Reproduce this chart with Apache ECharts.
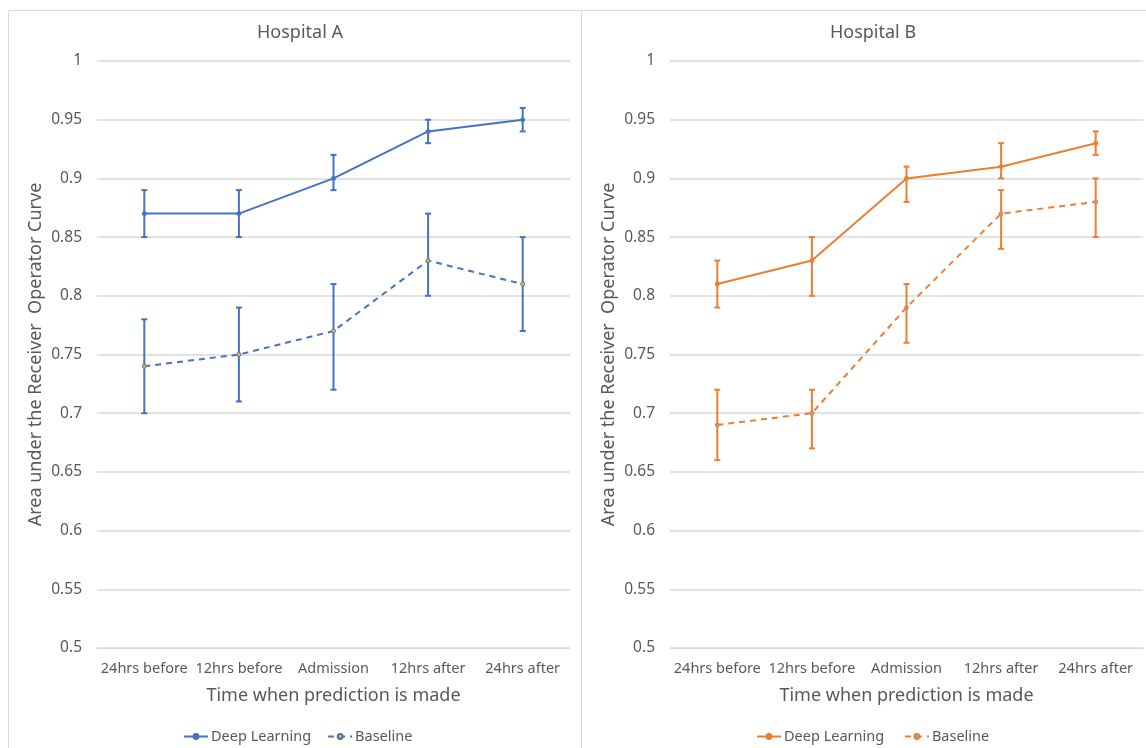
<!DOCTYPE html>
<html>
<head>
<meta charset="utf-8">
<script src="https://cdn.jsdelivr.net/npm/echarts@6/dist/echarts.min.js"></script>
<style>html,body{margin:0;padding:0;background:#fff}#c{width:1146px;height:748px}</style>
</head>
<body>
<div id="c"></div>
<script>
var categories = ['24hrs before', '12hrs before', 'Admission', '12hrs after', '24hrs after'];
var yTicks = [0.5, 0.55, 0.6, 0.65, 0.7, 0.75, 0.8, 0.85, 0.9, 0.95, 1];

var aDeep = [0.87, 0.87, 0.90, 0.94, 0.95];
var aDeepLow = [0.85, 0.85, 0.89, 0.93, 0.94];
var aDeepHigh = [0.89, 0.89, 0.92, 0.95, 0.96];
var aBase = [0.74, 0.75, 0.77, 0.83, 0.81];
var aBaseLow = [0.70, 0.71, 0.72, 0.80, 0.77];
var aBaseHigh = [0.78, 0.79, 0.81, 0.87, 0.85];

var bDeep = [0.81, 0.83, 0.90, 0.91, 0.93];
var bDeepLow = [0.79, 0.80, 0.88, 0.90, 0.92];
var bDeepHigh = [0.83, 0.85, 0.91, 0.93, 0.94];
var bBase = [0.69, 0.70, 0.79, 0.87, 0.88];
var bBaseLow = [0.66, 0.67, 0.76, 0.84, 0.85];
var bBaseHigh = [0.72, 0.72, 0.81, 0.89, 0.90];

var BLUE = '#4472C4', ORANGE = '#ED7D31', TXT = '#595959', GRID = '#D9D9D9';
var FONT = 'Noto Sans';

function errData(low, high) {
  return low.map(function (l, i) { return [i, l, high[i]]; });
}
function errSeries(low, high, color, gi) {
  return {
    type: 'custom', xAxisIndex: gi, yAxisIndex: gi, silent: true, z: 1,
    data: errData(low, high),
    encode: { x: 0, y: [1, 2] },
    renderItem: function (params, api) {
      var x = api.value(0);
      var p1 = api.coord([x, api.value(1)]);
      var p2 = api.coord([x, api.value(2)]);
      var w = 3;
      var st = { stroke: color, lineWidth: 2 };
      return { type: 'group', children: [
        { type: 'line', shape: { x1: p1[0], y1: p1[1], x2: p2[0], y2: p2[1] }, style: st },
        { type: 'line', shape: { x1: p1[0] - w, y1: p1[1], x2: p1[0] + w, y2: p1[1] }, style: st },
        { type: 'line', shape: { x1: p2[0] - w, y1: p2[1], x2: p2[0] + w, y2: p2[1] }, style: st }
      ]};
    }
  };
}
function lineSeries(name, data, color, dashed, fill, gi) {
  return {
    name: name, type: 'line', xAxisIndex: gi, yAxisIndex: gi, data: data, z: 3,
    symbol: 'circle', symbolSize: 4,
    lineStyle: { color: color, width: 2, type: dashed ? [6, 5] : 'solid' },
    itemStyle: { color: fill, borderColor: color, borderWidth: 1 },
    emphasis: { disabled: true }
  };
}
function xAxis(gi) {
  return {
    type: 'category', gridIndex: gi, data: categories, boundaryGap: true,
    axisLine: { show: true, lineStyle: { color: GRID, width: 1 } },
    axisTick: { show: false },
    axisLabel: { color: TXT, fontSize: 14.5, fontFamily: FONT, margin: 13, interval: 0 },
    name: 'Time when prediction is made', nameLocation: 'middle', nameGap: 39,
    nameTextStyle: { color: TXT, fontSize: 18, fontFamily: FONT }
  };
}
function yAxis(gi) {
  return {
    type: 'value', gridIndex: gi, min: 0.5, max: 1, interval: 0.05,
    axisLine: { show: false }, axisTick: { show: false },
    axisLabel: { color: TXT, fontSize: 15.5, fontFamily: FONT, margin: 15,
      formatter: function (v) { return String(Math.round(v * 100) / 100); } },
    splitLine: { lineStyle: { color: GRID, width: 1.5 } },
    name: 'Area under the Receiver  Operator Curve', nameLocation: 'middle', nameGap: 52,
    nameTextStyle: { color: TXT, fontSize: 18, fontFamily: FONT }
  };
}
function legend(names, left) {
  return { data: names, left: left, top: 724, itemWidth: 24, itemHeight: 6, itemGap: 16,
    textStyle: { color: TXT, fontSize: 14.5, fontFamily: FONT, padding: [0, 0, 0, -2] }, selectedMode: false };
}

var chart = echarts.init(document.getElementById('c'), null, { renderer: 'canvas' });
chart.setOption({
  backgroundColor: '#fff',
  animation: false,
  graphic: [
    { type: 'rect', shape: { x: 8.5, y: 10.5, width: 573, height: 760 }, style: { fill: 'none', stroke: '#D9D9D9', lineWidth: 1 }, silent: true },
    { type: 'rect', shape: { x: 581.5, y: 10.5, width: 600, height: 760 }, style: { fill: 'none', stroke: '#D9D9D9', lineWidth: 1 }, silent: true }
  ],
  title: [
    { text: 'Hospital A', left: 295, top: 19, textAlign: 'center', textStyle: { color: TXT, fontSize: 18, fontWeight: 'normal', fontFamily: FONT } },
    { text: 'Hospital B', left: 868, top: 19, textAlign: 'center', textStyle: { color: TXT, fontSize: 18, fontWeight: 'normal', fontFamily: FONT } }
  ],
  legend: [
    legend(['Deep Learning', 'Baseline'], 178),
    legend(['Deep Learning ', 'Baseline '], 751)
  ],
  grid: [
    { left: 97, right: 1146 - 570, top: 61, bottom: 100 },
    { left: 670, right: 3, top: 61, bottom: 100 }
  ],
  xAxis: [xAxis(0), xAxis(1)],
  yAxis: [yAxis(0), yAxis(1)],
  series: [
    errSeries(aDeepLow, aDeepHigh, BLUE, 0),
    errSeries(aBaseLow, aBaseHigh, BLUE, 0),
    lineSeries('Deep Learning', aDeep, BLUE, false, BLUE, 0),
    lineSeries('Baseline', aBase, BLUE, true, '#FFC000', 0),
    errSeries(bDeepLow, bDeepHigh, ORANGE, 1),
    errSeries(bBaseLow, bBaseHigh, ORANGE, 1),
    lineSeries('Deep Learning ', bDeep, ORANGE, false, ORANGE, 1),
    lineSeries('Baseline ', bBase, ORANGE, true, '#A5A5A5', 1)
  ]
});
</script>
</body>
</html>
